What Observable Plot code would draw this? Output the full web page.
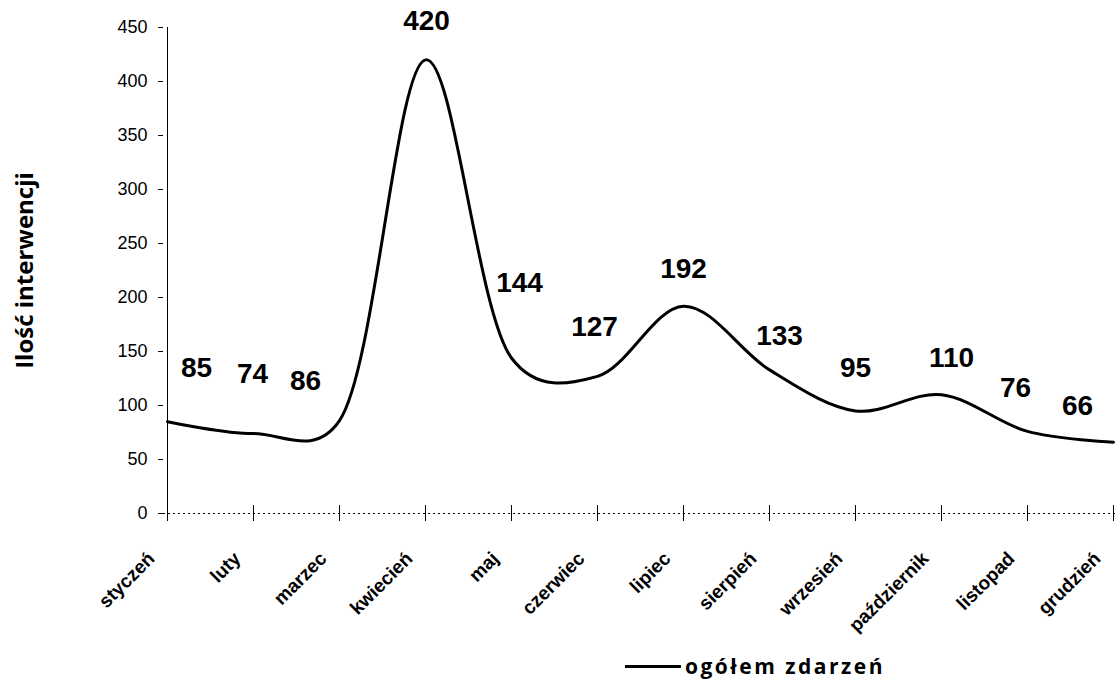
<!DOCTYPE html>
<html>
<head>
<meta charset="utf-8">
<script src="https://cdn.jsdelivr.net/npm/d3@7"></script>
<script src="https://cdn.jsdelivr.net/npm/@observablehq/plot@0.6"></script>
<style>
  html, body { margin: 0; padding: 0; background: #fff; }
  #chart { width: 1118px; height: 684px; position: relative; font-family: "Liberation Sans", Arial, sans-serif; }
  #legend { position: absolute; left: 625px; top: 652px; display: flex; align-items: center; font-weight: bold; font-size: 21px; letter-spacing: 2.5px; font-family: "Open Sans", "Liberation Sans", sans-serif; line-height: 29px; }
  #legend .sw { width: 56px; height: 0; border-top: 3px solid #000; margin-right: 4px; }
</style>
</head>
<body>
<div id="chart"></div>
<script>
const months = ["styczeń","luty","marzec","kwiecień","maj","czerwiec","lipiec","sierpień","wrzesień","październik","listopad","grudzień"];
const values = [85, 74, 86, 420, 144, 127, 192, 133, 95, 110, 76, 66];
const yTicks = [0, 50, 100, 150, 200, 250, 300, 350, 400, 450];
const seriesName = "ogółem zdarzeń";
const yTitle = "Ilość interwencji";

// label nudges (style only, pixels)
const labelDx = [29, -1, -34, 1, 8, -3, 0, 10, 0, 10, -12, -36];
const labelDy = [-54, -60, -40, -39, -75, -49, -37, -34, -43, -37, -43, -36];

const data = months.map((m, i) => ({month: m, value: values[i], i}));

const labelMarks = data.map((d, i) =>
  Plot.text([d], {x: "month", y: "value", text: r => String(r.value), fontSize: 28, fontWeight: "bold",
    dx: labelDx[i], dy: labelDy[i], fill: "#000"})
);

const chart = Plot.plot({
  width: 1118,
  height: 640,
  marginLeft: 163,
  marginRight: 1,
  marginTop: 27,
  marginBottom: 127,
  style: {fontFamily: "'Liberation Sans', Arial, sans-serif", background: "#fff", color: "#000", overflow: "visible"},
  x: {type: "point", domain: months, padding: 0},
  y: {domain: [0, 450]},
  marks: [
    Plot.ruleX([months[0]], {x: d => d, y1: 0, y2: 450, stroke: "#000", strokeWidth: 1}),
    Plot.ruleY([0], {stroke: "#000", strokeWidth: 1, strokeDasharray: "2,3"}),
    Plot.axisY({ticks: yTicks, tickSize: 5, tickPadding: 11, fontSize: 18, label: null, stroke: "#000"}),
    Plot.text([yTitle], {frameAnchor: "left", dx: -138, rotate: -90, textAnchor: "middle", fontSize: 24, fontWeight: "bold",
      fontFamily: "'Open Sans', 'Liberation Sans', sans-serif", text: d => d}),
    Plot.ruleX(months, {x: d => d, y1: 0, y2: 0, insetTop: -8, insetBottom: -8, stroke: "#000", strokeWidth: 1}),
    Plot.axisX({tickSize: 0, tickRotate: -45, tickPadding: 42, dx: -16, fontSize: 19, fontWeight: "bold", label: null}),
    Plot.line(data, {x: "month", y: "value", curve: "catmull-rom", tension: 0.25, stroke: "#000", strokeWidth: 3}),
    ...labelMarks
  ]
});
const host = document.getElementById("chart");
host.appendChild(chart);
const legend = document.createElement("div");
legend.id = "legend";
legend.innerHTML = '<span class="sw"></span><span></span>';
legend.lastChild.textContent = seriesName;
host.appendChild(legend);
</script>
</body>
</html>
